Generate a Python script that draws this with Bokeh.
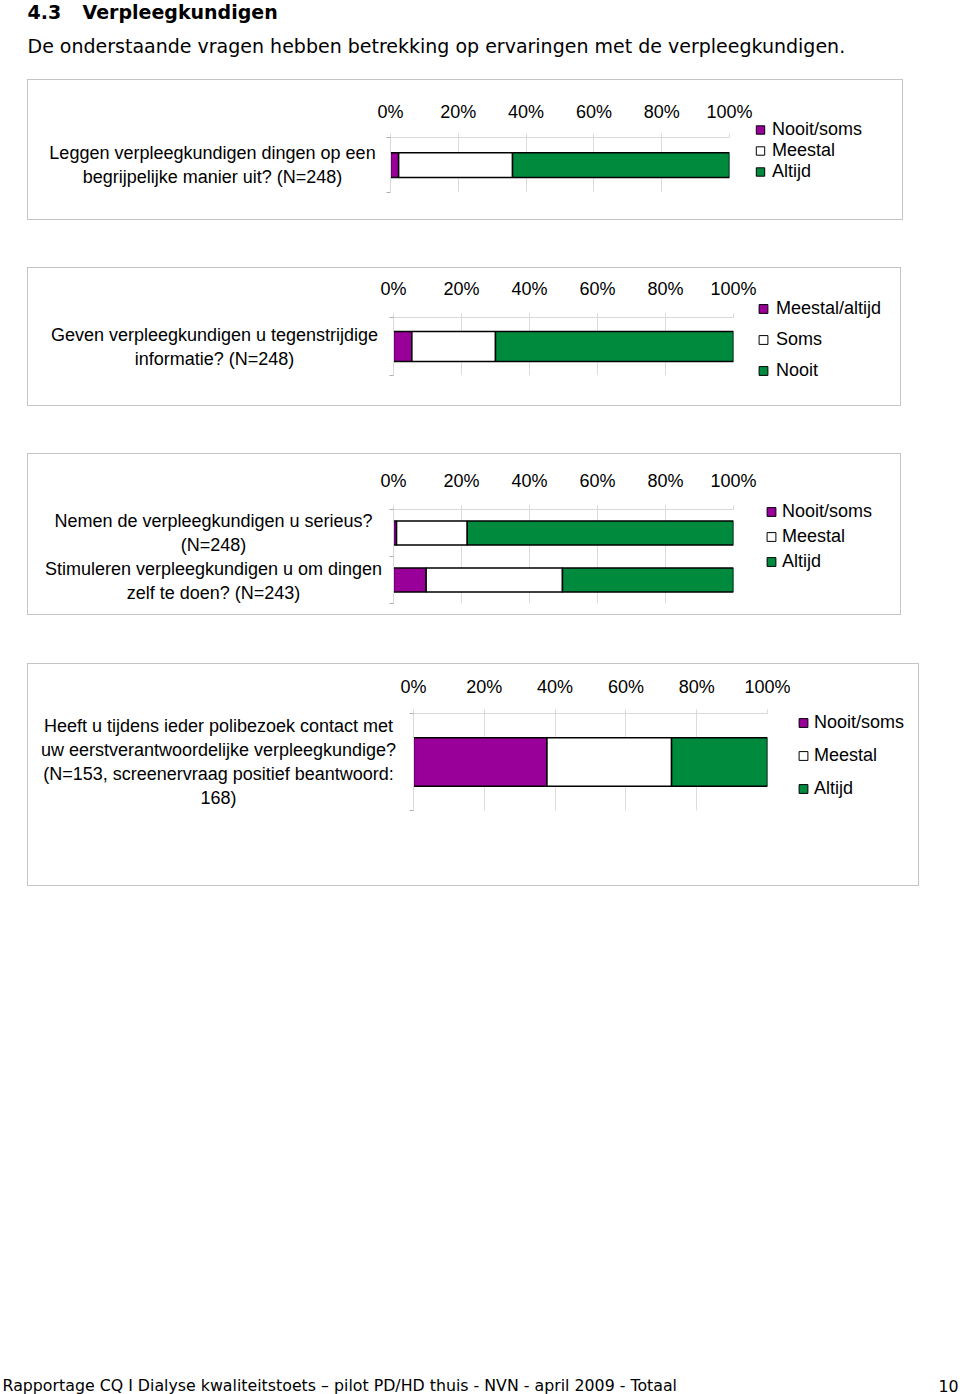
from bokeh.plotting import figure
from bokeh.models import (Range1d, FixedTicker, PrintfTickFormatter, Legend, Label,
                          LegendItem, Spacer, ColumnDataSource)
from bokeh.layouts import column, row
from bokeh.embed import file_html
from bokeh.resources import INLINE
from bokeh.core.properties import value

# ---------------- data ----------------
tick_values = [0, 20, 40, 60, 80, 100]

p1_questions = ["Leggen verpleegkundigen dingen op een\nbegrijpelijke manier uit? (N=248)"]
p1_labels = ["Nooit/soms", "Meestal", "Altijd"]
p1_nooit_soms = [2.4]
p1_meestal = [33.6]
p1_altijd = [64.0]

p2_questions = ["Geven verpleegkundigen u tegenstrijdige\ninformatie? (N=248)"]
p2_labels = ["Meestal/altijd", "Soms", "Nooit"]
p2_meestal_altijd = [5.4]
p2_soms = [24.6]
p2_nooit = [70.0]

p3_questions = ["Nemen de verpleegkundigen u serieus?\n(N=248)",
                "Stimuleren verpleegkundigen u om dingen\nzelf te doen? (N=243)"]
p3_labels = ["Nooit/soms", "Meestal", "Altijd"]
p3_nooit_soms = [0.9, 9.6]
p3_meestal = [20.8, 40.1]
p3_altijd = [78.3, 50.3]

p4_questions = ["Heeft u tijdens ieder polibezoek contact met\nuw eerstverantwoordelijke verpleegkundige?\n(N=153, screenervraag positief beantwoord:\n168)"]
p4_labels = ["Nooit/soms", "Meestal", "Altijd"]
p4_nooit_soms = [37.7]
p4_meestal = [35.2]
p4_altijd = [27.1]

# ---------------- style ----------------
PURPLE = "#990099"
WHITE = "#ffffff"
GREEN = "#008a3e"
COLORS = [PURPLE, WHITE, GREEN]
FONT = "Liberation Sans"
FS = "18px"
GRAY = "#c4c4c4"
BOX_LINE = {"background-color": GRAY}


def make_panel(questions, labels, series, box, frame, bar_h, standoff_x,
               leg_loc, pitch, leg_standoff, q_center_x):
    x0, x1, y0, y1 = box             # outer border of the panel box (page px)
    fl, ft, fw, fh = frame           # plot area left/top/width/height (page px)
    W = x1 - x0 + 1
    H = y1 - y0 + 1
    iw = x1 - x0 - 1
    ih = y1 - y0 - 1
    n = len(questions)

    left = fl - (x0 + 1)
    top = ft - (y0 + 1)
    right = iw - left - fw
    bottom = ih - top - fh
    p = figure(frame_width=fw, frame_height=fh, x_range=Range1d(0, 100),
               y_range=Range1d(0, n),
               x_axis_location="above", toolbar_location=None, output_backend="svg",
               min_border_left=left, min_border_right=right,
               min_border_top=top, min_border_bottom=bottom,
               outline_line_color=None, border_fill_color="white",
               background_fill_color="white")
    ys = [n - 0.5 - i for i in range(n)]
    src = ColumnDataSource(dict(y=ys, s0=series[0], s1=series[1], s2=series[2]))
    p.hbar_stack(["s0", "s1", "s2"], y="y", height=bar_h, source=src,
                 fill_color=COLORS, line_color="black", line_width=1.5)

    xa = p.xaxis[0]
    xa.ticker = FixedTicker(ticks=tick_values)
    xa.formatter = PrintfTickFormatter(format="%d%%")
    xa.axis_line_color = "#d9d9d9"
    xa.major_tick_line_color = "#d9d9d9"
    xa.major_tick_out = 4
    xa.major_tick_in = 0
    xa.minor_tick_line_color = None
    xa.major_label_text_font = FONT
    xa.major_label_text_font_size = FS
    xa.major_label_text_color = "black"
    xa.major_label_standoff = standoff_x

    ya = p.yaxis[0]
    ya.ticker = FixedTicker(ticks=ys, minor_ticks=list(range(n + 1)))
    ya.axis_line_color = "#d9d9d9"
    ya.major_tick_line_color = None
    ya.major_tick_out = 0
    ya.major_tick_in = 0
    ya.minor_tick_line_color = "#b0b0b0"
    ya.minor_tick_out = 4
    ya.minor_tick_in = 0
    ya.major_label_standoff = 0
    ya.major_label_text_font_size = "0px"

    # question text, centred line by line, left of the plot area
    p.add_layout(Label(x=(q_center_x - fl) / fw * 100, y=n / 2, text="\n".join(questions),
                       text_align="center", text_baseline="middle",
                       text_font=FONT, text_font_size=FS, text_color="black"), "left")

    p.xgrid.ticker = FixedTicker(ticks=tick_values)
    p.xgrid.grid_line_color = "#dcdcdc"
    p.ygrid.visible = False

    # legend proxies (one point outside the visible range, drawn only in the legend)
    items = []
    for l, c in zip(labels, COLORS):
        r = p.scatter(x=[-1000], y=[-1000], marker="square", fill_color=c,
                      line_color="black", line_width=1)
        items.append(LegendItem(label=l, renderers=[r]))
    leg = Legend(items=items, location=leg_loc, glyph_width=22, glyph_height=pitch,
                 label_height=pitch, spacing=0, padding=0, margin=0,
                 label_standoff=leg_standoff, border_line_color=None,
                 background_fill_alpha=0, label_text_font=FONT,
                 label_text_font_size=FS, label_text_color="black")
    p.add_layout(leg, "right")

    block = column(Spacer(width=W, height=1, styles=BOX_LINE),
                   row(Spacer(width=1, height=ih, styles=BOX_LINE), p),
                   Spacer(width=W, height=1, styles=BOX_LINE))
    right_edge = Spacer(width=1, height=H,
                        styles={"background-color": GRAY, "position": "absolute",
                                "left": f"{x1}px", "top": "0px"})
    return row(Spacer(width=x0, height=H), block, right_edge)


b1 = make_panel(p1_questions, p1_labels, [p1_nooit_soms, p1_meestal, p1_altijd],
                (27, 902, 79, 219), (390, 137, 339, 55), 0.45, 12,
                (20, 10), 21, 1, 212)
b2 = make_panel(p2_questions, p2_labels, [p2_meestal_altijd, p2_soms, p2_nooit],
                (27, 900, 267, 405), (393, 317, 340, 58), 0.52, 15,
                (19, -11), 31, 2, 214)
b3 = make_panel(p3_questions, p3_labels, [p3_nooit_soms, p3_meestal, p3_altijd],
                (27, 900, 453, 614), (393, 509, 340, 94), 0.51, 15,
                (27, 29.5), 25, 0, 213)
b4 = make_panel(p4_questions, p4_labels, [p4_nooit_soms, p4_meestal, p4_altijd],
                (27, 918, 663, 885), (413, 713, 354, 97), 0.5, 13,
                (25, 5.5), 33, 0, 218)


def text_fig(h):
    f = figure(width=960, height=h, x_range=Range1d(0, 960), y_range=Range1d(h, 0),
               toolbar_location=None, output_backend="svg", min_border=0,
               x_axis_location=None, y_axis_location=None, outline_line_color=None)
    f.xgrid.visible = False
    f.ygrid.visible = False
    return f


hdr = text_fig(79)
hdr.text(x=[27], y=[11], text=["4.3"], text_font=value("DejaVu Sans"),
         text_font_style="bold", text_font_size="19px", text_baseline="middle")
hdr.text(x=[82], y=[11], text=["Verpleegkundigen"], text_font=value("DejaVu Sans"),
         text_font_style="bold", text_font_size="19px", text_baseline="middle")
hdr.text(x=[27], y=[45], text=["De onderstaande vragen hebben betrekking op ervaringen met de verpleegkundigen."],
         text_font=value("DejaVu Sans"), text_font_size="19px", text_baseline="middle")

ftr = text_fig(34)
ftr.text(x=[2], y=[25], text=["Rapportage CQ I Dialyse kwaliteitstoets \u2013 pilot PD/HD thuis - NVN -  april 2009 -  Totaal"],
         text_font=value("DejaVu Sans"), text_font_size="15.8px", text_baseline="middle")
ftr.text(x=[958], y=[25], text=["10"], text_font=value("DejaVu Sans"), text_font_size="15.8px",
         text_baseline="middle", text_align="right")

page = column(
    hdr,
    b1,
    Spacer(width=960, height=47),
    b2,
    Spacer(width=960, height=47),
    b3,
    Spacer(width=960, height=48),
    b4,
    Spacer(width=960, height=474),
    ftr,
)

open("out.html", "w").write(file_html(page, INLINE))
